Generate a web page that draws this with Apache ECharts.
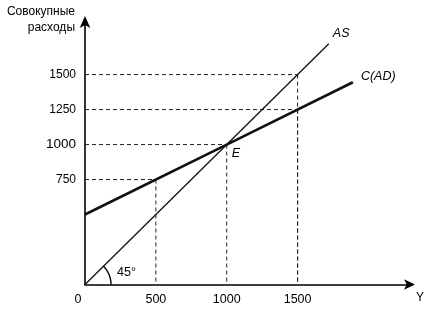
<!DOCTYPE html>
<html><head><meta charset="utf-8">
<script src="https://cdn.jsdelivr.net/npm/echarts@6/dist/echarts.min.js"></script>
<style>html,body{margin:0;padding:0;background:#fff}#c{width:431px;height:311px}</style>
</head><body><div id="c"></div>
<script>
const xTicks = [0, 500, 1000, 1500];
const yTicks = [750, 1000, 1250, 1500];
const asLine = [[0, 0], [1720, 1720]];
const adLine = [[0, 500], [1000, 1000], [1890, 1445]];
const guidePoints = [[500, 750], [1000, 1000], [1500, 1250], [1500, 1500]];
const yTitle = 'Совокупные\nрасходы';
const xName = 'Y';
const angleText = '45°';

const font = 'Liberation Sans, Arial, sans-serif';
const guideSeries = [];
guidePoints.forEach(p => {
  guideSeries.push({type: 'line', data: [[0, p[1]], p], symbol: 'none', silent: true,
    lineStyle: {color: '#222', width: 1, type: [4, 3]}, z: 1});
  guideSeries.push({type: 'line', data: [p, [p[0], 0]], symbol: 'none', silent: true,
    lineStyle: {color: '#222', width: 1, type: [4, 3]}, z: 1});
});
const lbl = (text, dist, off) => ({show: true, formatter: text, position: 'right', distance: dist, offset: off,
  fontFamily: font, fontStyle: 'italic', fontSize: 12.5, color: '#000'});

const chart = echarts.init(document.getElementById('c'), null, {renderer: 'canvas'});
chart.setOption({
  animation: false,
  backgroundColor: '#fff',
  grid: {left: 85, right: 20, top: 20, bottom: 26.5},
  xAxis: {type: 'value', min: 0, max: 2300,
    axisLine: {show: true, lineStyle: {color: '#000', width: 1.6}, symbol: ['none', 'arrow'], symbolSize: [8, 11], symbolOffset: [0, 4]},
    axisTick: {show: false}, splitLine: {show: false},
    axisLabel: {customValues: xTicks, margin: 9, color: '#000', fontFamily: font, fontSize: 12.5,
      formatter: v => v === 0 ? '{z|0}' : String(v),
      rich: {z: {padding: [0, 14, 0, 0], fontSize: 12.5, fontFamily: font, color: '#000'}}}
  },
  yAxis: {type: 'value', min: 0, max: 1890,
    axisLine: {show: true, lineStyle: {color: '#000', width: 1.6}, symbol: ['none', 'arrow'], symbolSize: [8, 12], symbolOffset: [0, 4]},
    axisTick: {show: false}, splitLine: {show: false},
    axisLabel: {customValues: yTicks, margin: 9, color: '#000', fontFamily: font, fontSize: 12,
      formatter: v => v === 1000 ? '{b|1000}' : String(v),
      rich: {b: {fontSize: 13.5, fontFamily: font, color: '#000'}}}
  },
  series: [
    ...guideSeries,
    {type: 'line', name: 'AS', symbol: 'circle', symbolSize: 0, showAllSymbol: true, silent: true,
      data: [asLine[0], {value: asLine[1], label: lbl('AS', 4, [0, -10])}],
      lineStyle: {color: '#111', width: 1.3}, z: 3},
    {type: 'line', name: 'C(AD)', symbol: 'circle', symbolSize: 0, showAllSymbol: true, silent: true,
      data: [adLine[0],
        {value: adLine[1], label: lbl('E', 5, [0, 9])},
        {value: adLine[2], label: lbl('C(AD)', 8, [0, -6])}],
      lineStyle: {color: '#111', width: 2.6}, z: 4}
  ]
});
const o = chart.convertToPixel({gridIndex: 0}, [0, 0]);
const R = 26;
const arcPts = [];
for (let i = 0; i <= 24; i++) {
  const a = -Math.PI / 4 * (1 - i / 24);
  arcPts.push([o[0] + R * Math.cos(a), o[1] + R * Math.sin(a)]);
}
chart.setOption({
  graphic: [
    {type: 'text', x: 75, y: 4, style: {text: yTitle, font: '12px ' + font, fill: '#000', lineHeight: 16, align: 'right'}},
    {type: 'text', x: 416, y: 292, style: {text: xName, font: '12px ' + font, fill: '#000'}},
    {type: 'polyline', z: 100, silent: true, shape: {points: arcPts}, style: {stroke: '#000', lineWidth: 1.4, fill: null}},
    {type: 'text', x: o[0] + 32, y: o[1] - 12, style: {text: angleText, font: '12.5px ' + font, fill: '#000', verticalAlign: 'middle'}}
  ]
});
</script></body></html>
